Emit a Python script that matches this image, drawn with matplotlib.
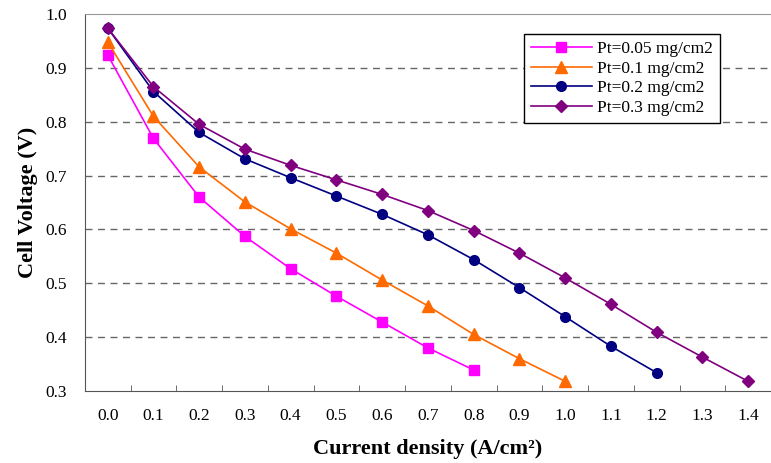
import matplotlib.pyplot as plt
from matplotlib.ticker import MultipleLocator

# current density (A/cm2) and cell voltage (V) per Pt loading
current = [0.0, 0.1, 0.2, 0.3, 0.4, 0.5, 0.6, 0.7, 0.8, 0.9, 1.0, 1.1, 1.2, 1.3, 1.4]
v_005 = [0.924, 0.769, 0.660, 0.587, 0.527, 0.476, 0.428, 0.380, 0.339]
v_01 = [0.948, 0.810, 0.716, 0.651, 0.601, 0.556, 0.506, 0.458, 0.405, 0.360, 0.318]
v_02 = [0.974, 0.856, 0.780, 0.731, 0.696, 0.662, 0.628, 0.590, 0.544, 0.492, 0.438, 0.383, 0.334]
v_03 = [0.974, 0.865, 0.795, 0.749, 0.719, 0.692, 0.665, 0.635, 0.598, 0.556, 0.510, 0.461, 0.409, 0.363, 0.318]

labels = ["Pt=0.05 mg/cm2", "Pt=0.1 mg/cm2", "Pt=0.2 mg/cm2", "Pt=0.3 mg/cm2"]

plt.rcParams["font.family"] = ["Liberation Serif", "DejaVu Serif"]

fig = plt.figure(figsize=(7.71, 4.63), dpi=100)
ax = fig.add_axes([0.110, 0.1555, 0.89, 0.8143])

ax.plot(current[:len(v_005)], v_005, color="#ff00ff", marker="s", markersize=7, lw=1.2, label=labels[0])
ax.plot(current[:len(v_01)], v_01, color="#ff6a00", marker="^", markersize=8, lw=1.2, label=labels[1])
ax.plot(current[:len(v_02)], v_02, color="#000080", marker="o", markersize=7, lw=1.2, label=labels[2])
ax.plot(current[:len(v_03)], v_03, color="#800080", marker="D", markersize=6, lw=1.2, label=labels[3])

# category-style x axis like Excel
ax.set_xlim(-0.05, 1.45)
ax.set_xticks(current)
ax.set_xticklabels([f"{c:.1f}" for c in current])
ax.set_xticks([c + 0.05 for c in current[:-1]], minor=True)
ax.tick_params(axis="x", which="major", length=0, pad=12, labelsize=12.5)
ax.tick_params(axis="x", which="minor", direction="in", length=4, color="#555555")

ax.set_ylim(0.3, 1.0)
ax.yaxis.set_major_locator(MultipleLocator(0.1))
ax.set_yticklabels([f"{v:.1f}" for v in ax.get_yticks()])
ax.tick_params(axis="y", length=0, pad=13, labelsize=12.5)

for y in [0.4, 0.5, 0.6, 0.7, 0.8, 0.9]:
    ax.axhline(y, color="#666666", ls=(0, (5, 4)), lw=1.0, zorder=0)

ax.spines["right"].set_visible(False)
ax.spines["top"].set_color("#999999")
ax.spines["left"].set_color("#555555")
ax.spines["bottom"].set_color("#555555")

ax.set_xlabel("Current density (A/cm²)", fontsize=16, fontweight="bold", labelpad=11)
ax.set_ylabel("Cell Voltage (V)", fontsize=16, fontweight="bold", labelpad=5)

leg = ax.legend(loc="upper left", bbox_to_anchor=(0.64, 0.947), borderaxespad=0, fontsize=12.5,
                frameon=True, fancybox=False, edgecolor="black", framealpha=1,
                handlelength=3.5, borderpad=0.4, labelspacing=0.2, handletextpad=0.3)
leg.get_frame().set_linewidth(1.0)

fig.savefig("out.png", dpi=100)
